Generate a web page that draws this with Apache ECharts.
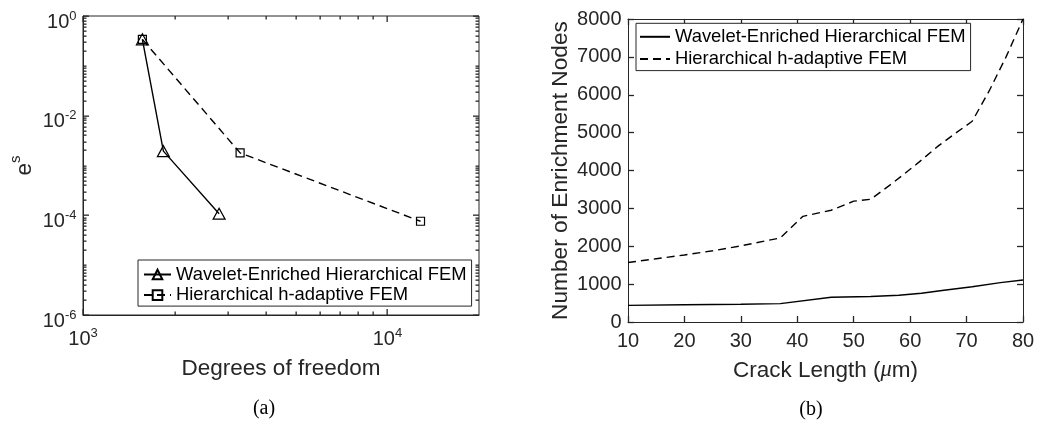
<!DOCTYPE html>
<html><head><meta charset="utf-8">
<script src="https://cdn.jsdelivr.net/npm/echarts@6/dist/echarts.min.js"></script>
<style>html,body{margin:0;padding:0;background:#fff}#c{width:1038px;height:421px;background:#fff}</style>
</head><body><div id="c"></div>
<script>
// ---------- data (a) ----------
const dofWavelet   = [1567, 1837, 2800];
const errWavelet   = [0.34, 0.00194, 0.000108];
const dofHAdaptive = [1567, 3282, 12850];
const errHAdaptive = [0.34, 0.00179, 0.000076];

// ---------- data (b) ----------
const crackWavelet   = [10, 20, 30, 37, 46, 53, 58, 62, 66, 71, 76, 80];
const nodesWavelet   = [440, 455, 470, 485, 655, 675, 705, 760, 840, 930, 1040, 1110];
const crackHAdaptive = [10, 15, 20, 25, 30, 37, 41, 46, 50, 53, 57, 61, 65, 68, 71, 74, 77, 80];
const nodesHAdaptive = [1570, 1670, 1770, 1880, 2010, 2220, 2790, 2950, 3190, 3240, 3680, 4150, 4650, 4980, 5300, 6100, 7000, 8000];

const seriesNames = ['Wavelet-Enriched Hierarchical FEM', 'Hierarchical h-adaptive FEM'];

// ---------- ticks ----------
const dofMajorTicks = [1000, 10000];
const dofMinorTicks = [2000, 3000, 4000, 5000, 6000, 7000, 8000, 9000];
const errMajorTicks = [1e-6, 1e-4, 1e-2, 1];
const errMinorTicks = [];
[1e-6, 1e-5, 1e-4, 1e-3, 1e-2, 1e-1].forEach(function (d) {
  [2, 3, 4, 5, 6, 7, 8, 9].forEach(function (m) { errMinorTicks.push(+(m * d).toPrecision(3)); });
  if (errMajorTicks.indexOf(d) < 0) errMinorTicks.push(d);
});

const FONT = "'Liberation Sans', Arial, Helvetica, sans-serif";
const SERIF = "'Liberation Serif', 'DejaVu Serif', serif";
const AX = '#262626';

function supLabel(v) {
  const e = Math.round(Math.log10(v));
  return '{b|10}{s|' + e + '}';
}
function supRich() {
  return {
    b: { fontSize: 20, fontFamily: FONT, color: AX, verticalAlign: 'bottom' },
    s: { fontSize: 13, fontFamily: FONT, color: AX, padding: [9.5, 0, 9.5, 0] }
  };
}
const plain = function (v) { return String(v); };
function axisLine() { return { show: true, onZero: false, lineStyle: { color: AX, width: 1 } }; }
function inTicks() { return { show: true, inside: true, length: 6, lineStyle: { color: AX, width: 1.3 } }; }

const xAxes = [
  { gridIndex: 0, type: 'log', logBase: 10, min: 1000, max: 20000, position: 'bottom',
    splitLine: { show: false }, minorTick: { show: false }, axisLine: axisLine(), axisTick: { show: false },
    axisLabel: { customValues: dofMajorTicks, formatter: supLabel, rich: supRich(), margin: 2 },
    name: 'Degrees of freedom', nameLocation: 'middle', nameGap: 42,
    nameTextStyle: { fontSize: 22.5, fontFamily: FONT, color: AX } },
  { gridIndex: 1, type: 'value', min: 10, max: 80, interval: 10, position: 'bottom',
    splitLine: { show: false }, axisLine: axisLine(), axisTick: inTicks(),
    axisLabel: { fontSize: 20, fontFamily: FONT, color: AX, margin: 9, formatter: plain },
    name: 'Crack Length ({m|μ}m)', nameLocation: 'middle', nameGap: 37,
    nameTextStyle: { fontSize: 22.5, fontFamily: FONT, color: AX,
      rich: { m: { fontSize: 22.5, fontFamily: SERIF, fontStyle: 'italic', color: AX } } } },
  { gridIndex: 1, type: 'value', min: 10, max: 80, interval: 10, position: 'top',
    splitLine: { show: false }, axisLine: axisLine(), axisTick: inTicks(), axisLabel: { show: false } }
];
const yAxes = [
  { gridIndex: 0, type: 'log', logBase: 10, min: 1e-6, max: 1, position: 'left',
    splitLine: { show: false }, minorTick: { show: false }, axisLine: axisLine(), axisTick: { show: false },
    axisLabel: { customValues: errMajorTicks, formatter: supLabel, rich: supRich(), margin: 6.5 },
    name: '{e|e}{s|s}', nameLocation: 'middle', nameGap: 47, nameRotate: 90,
    nameTextStyle: { color: AX, rich: {
      e: { fontSize: 22.5, fontFamily: FONT, color: AX, verticalAlign: 'bottom' },
      s: { fontSize: 15, fontFamily: FONT, color: AX, padding: [12.5, 0, 12.5, 0] } } } },
  { gridIndex: 1, type: 'value', min: 0, max: 8000, interval: 1000, position: 'left',
    splitLine: { show: false }, axisLine: axisLine(), axisTick: inTicks(),
    axisLabel: { fontSize: 20, fontFamily: FONT, color: AX, margin: 6.5, formatter: plain },
    name: 'Number of Enrichment Nodes', nameLocation: 'middle', nameGap: 56, nameRotate: 90,
    nameTextStyle: { fontSize: 22.7, fontFamily: FONT, color: AX } },
  { gridIndex: 1, type: 'value', min: 0, max: 8000, interval: 1000, position: 'right',
    splitLine: { show: false }, axisLine: axisLine(), axisTick: inTicks(), axisLabel: { show: false } }
];

// log-axis tick marks (inside, all four sides) placed through the axes' own scales
function tickItems(xMaj, xMin, yMaj, yMin, x0, y0) {
  const out = [];
  xMaj.forEach(function (v) { out.push([v, y0, 0]); });
  xMin.forEach(function (v) { out.push([v, y0, 1]); });
  yMaj.forEach(function (v) { out.push([x0, v, 2]); });
  yMin.forEach(function (v) { out.push([x0, v, 3]); });
  return out;
}
function tickSeries(xi, yi, data, xr, yr) {
  return {
    type: 'custom', name: 'ticks', xAxisIndex: xi, yAxisIndex: yi, silent: true, clip: false, z: 10,
    data: data,
    renderItem: function (params, api) {
      const kind = api.value(2);
      const L = (kind === 0 || kind === 2) ? 6 : 3.5;
      const st = { fill: AX };
      if (kind < 2) {
        const xv = api.value(0);
        const a = api.coord([xv, yr[0]]), b = api.coord([xv, yr[1]]);
        const px = Math.round(a[0]) - 0.5;
        return { type: 'group', children: [
          { type: 'rect', shape: { x: px, y: a[1] - L, width: 1.3, height: L }, style: st },
          { type: 'rect', shape: { x: px, y: b[1], width: 1.3, height: L }, style: st }
        ] };
      }
      const yv = api.value(1);
      const c = api.coord([xr[0], yv]), d = api.coord([xr[1], yv]);
      const py = Math.round(c[1]) - 0.5;
      return { type: 'group', children: [
        { type: 'rect', shape: { x: c[0], y: py, width: L, height: 1.3 }, style: st },
        { type: 'rect', shape: { x: d[0] - L, y: py, width: L, height: 1.3 }, style: st }
      ] };
    }
  };
}

function zip(a, b) { return a.map(function (v, i) { return [v, b[i]]; }); }
function hollow() { return { color: 'rgba(0,0,0,0)', borderColor: '#000', borderWidth: 1.2 }; }
const DASH = [8, 5];

const option = {
  animation: false,
  grid: [
    { left: 83, top: 16, width: 396, height: 299, show: true, borderColor: AX, borderWidth: 1, backgroundColor: 'rgba(0,0,0,0)' },
    { left: 628, top: 19, width: 395, height: 303 }
  ],
  xAxis: xAxes,
  yAxis: yAxes,
  legend: [
    {
      data: seriesNames, left: 138, top: 260, orient: 'vertical', selectedMode: false,
      itemWidth: 27, itemHeight: 12, itemGap: 2.6, padding: [5.5, 5, 2, 5],
      borderColor: AX, borderWidth: 1, backgroundColor: '#fff', borderRadius: 0,
      textStyle: { fontSize: 18.4, fontFamily: FONT, color: '#000' }
    },
    {
      data: seriesNames.map(function (n) { return 'b:' + n; }),
      formatter: function (n) { return n.replace(/^b:/, ''); },
      left: 636, top: 23.3, orient: 'vertical', selectedMode: false,
      itemWidth: 30, itemHeight: 12, itemGap: 4.3, padding: [4.5, 5, 2.5, 3],
      borderColor: AX, borderWidth: 1, backgroundColor: '#fff', borderRadius: 0,
      itemStyle: { color: 'rgba(0,0,0,0)', borderColor: 'rgba(0,0,0,0)', borderWidth: 0 },
      textStyle: { fontSize: 18.4, fontFamily: FONT, color: '#000' }
    }
  ],
  graphic: [
    { type: 'text', style: { text: '(a)', x: 264, y: 409, align: 'center', verticalAlign: 'middle', fontSize: 20, fontFamily: SERIF, fill: '#000' } },
    { type: 'text', style: { text: '(b)', x: 811, y: 410, align: 'center', verticalAlign: 'middle', fontSize: 20, fontFamily: SERIF, fill: '#000' } }
  ],
  series: [
    tickSeries(0, 0, tickItems(dofMajorTicks, dofMinorTicks, errMajorTicks, errMinorTicks, 1000, 1e-6), [1000, 20000], [1e-6, 1]),
    { name: seriesNames[0], type: 'line', xAxisIndex: 0, yAxisIndex: 0, data: zip(dofWavelet, errWavelet),
      symbol: 'triangle', symbolSize: [12, 11], itemStyle: hollow(),
      lineStyle: { color: '#000', width: 1.4, type: 'solid' } },
    { name: seriesNames[1], type: 'line', xAxisIndex: 0, yAxisIndex: 0, data: zip(dofHAdaptive, errHAdaptive),
      symbol: 'rect', symbolSize: 8, itemStyle: hollow(),
      lineStyle: { color: '#000', width: 1.4, type: DASH } },
    { name: 'b:' + seriesNames[0], type: 'line', xAxisIndex: 1, yAxisIndex: 1, data: zip(crackWavelet, nodesWavelet),
      symbol: 'none', itemStyle: { color: '#000' },
      lineStyle: { color: '#000', width: 1.4, type: 'solid' } },
    { name: 'b:' + seriesNames[1], type: 'line', xAxisIndex: 1, yAxisIndex: 1, data: zip(crackHAdaptive, nodesHAdaptive),
      symbol: 'none', itemStyle: { color: '#000' },
      lineStyle: { color: '#000', width: 1.4, type: DASH } }
  ]
};
const chart = echarts.init(document.getElementById('c'));
chart.setOption(option);
</script></body></html>
